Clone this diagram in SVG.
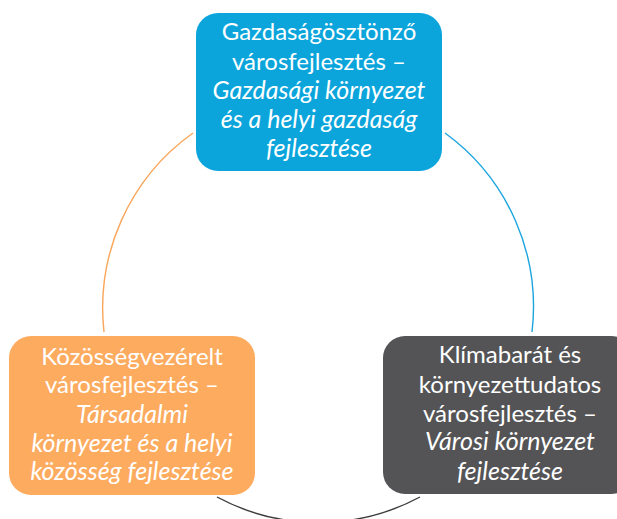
<svg xmlns="http://www.w3.org/2000/svg" width="617" height="519" viewBox="0 0 617 519">
<style>
.t{font-family:Lato,"Open Sans","Liberation Sans",sans-serif;font-size:24px;fill:#fff;text-anchor:middle}
.i{font-style:italic;font-size:25px}
.c{fill:none;stroke-width:1.4}
</style>
<rect width="617" height="519" fill="#fff"/>
<g id="connectors">
<path class="c" stroke="#F9A65A" d="M193,133 A215,215 0 0,0 104,332"/>
<path class="c" stroke="#1BA5DE" d="M445,133 A215,215 0 0,1 532,332"/>
<path class="c" stroke="#3C3C3E" d="M217,497 A215,215 0 0,0 420,497"/>
</g>
<g id="node-top">
<rect x="196" y="13" width="246" height="158" rx="22" fill="#0BA5DC"/>
<text class="t" x="319" y="40">Gazdaságösztönző</text>
<text class="t" x="319" y="70">városfejlesztés –</text>
<text class="t i" x="319" y="99">Gazdasági környezet</text>
<text class="t i" x="319" y="128">és a helyi gazdaság</text>
<text class="t i" x="319" y="157">fejlesztése</text>
</g>
<g id="node-left">
<rect x="9" y="336" width="246" height="159" rx="22" fill="#FDAB5F"/>
<text class="t" x="132" y="365">Közösségvezérelt</text>
<text class="t" x="132" y="393">városfejlesztés –</text>
<text class="t i" x="132" y="423">Társadalmi</text>
<text class="t i" x="132" y="452">környezet és a helyi</text>
<text class="t i" x="132" y="480">közösség fejlesztése</text>
</g>
<g id="node-right">
<rect x="383" y="336" width="250" height="158" rx="22" fill="#545456"/>
<text class="t" x="510" y="363">Klímabarát és</text>
<text class="t" x="510" y="393">környezettudatos</text>
<text class="t" x="510" y="422">városfejlesztés –</text>
<text class="t i" x="510" y="450">Városi környezet</text>
<text class="t i" x="510" y="480">fejlesztése</text>
</g>
</svg>
